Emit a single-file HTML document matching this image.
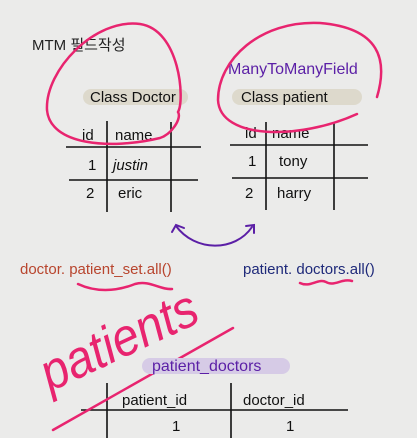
<!DOCTYPE html>
<html><head><meta charset="utf-8"><style>
html,body{margin:0;padding:0;background:#ebebea;}
svg{display:block}
text{font-family:"Liberation Sans","Noto Sans CJK KR",sans-serif;}
</style></head><body>
<svg width="417" height="438" viewBox="0 0 417 438" xmlns="http://www.w3.org/2000/svg">
<rect width="417" height="438" fill="#ebebea"/>
<text x="32" y="50" font-size="15" fill="#222">MTM 필드작성</text>
<text x="228" y="74" font-size="16" fill="#5b1fa6">ManyToManyField</text>
<rect x="83" y="89" width="105" height="16" rx="8" fill="#ddd9cc"/>
<text x="90" y="102" font-size="15" fill="#111">Class Doctor</text>
<rect x="232" y="89" width="130" height="16" rx="8" fill="#ddd9cc"/>
<text x="241" y="102" font-size="15" fill="#111">Class patient</text>
<g stroke="#111" stroke-width="1.6" fill="none">
<line x1="107" y1="121" x2="107" y2="212"/><line x1="171" y1="122" x2="171" y2="212"/>
<line x1="66" y1="147" x2="201" y2="147"/><line x1="69" y1="180" x2="198" y2="180"/>
<line x1="266" y1="122" x2="266" y2="210"/><line x1="334" y1="122" x2="334" y2="210"/>
<line x1="230" y1="145" x2="368" y2="145"/><line x1="232" y1="178" x2="368" y2="178"/>
<line x1="107" y1="383" x2="107" y2="438"/><line x1="231" y1="383" x2="231" y2="438"/>
<line x1="81" y1="410" x2="348" y2="410"/>
</g>
<g font-size="15" fill="#111">
<text x="82" y="140">id</text><text x="115" y="140">name</text>
<text x="88" y="170">1</text><text x="113" y="170" font-style="italic">justin</text>
<text x="86" y="198">2</text><text x="118" y="198">eric</text>
<text x="245" y="138">id</text><text x="272" y="138">name</text>
<text x="248" y="166">1</text><text x="279" y="166">tony</text>
<text x="245" y="198">2</text><text x="277" y="198">harry</text>
<text x="122" y="405">patient_id</text><text x="243" y="405">doctor_id</text>
<text x="172" y="431">1</text><text x="286" y="431">1</text>
</g>
<g stroke="#e8246f" stroke-width="2.5" fill="none" stroke-linecap="round">
<path d="M178,112 C185,100 180,30 140,24 C95,18 45,70 47,110 C50,145 110,150 160,138 C172,134 182,118 178,112"/>
<path d="M377,97 C388,60 380,28 320,23 C260,20 218,60 218,100 C220,140 300,140 357,114"/>
<path d="M78,284 C95,292 115,292 135,284 C150,280 160,290 172,289"/>
<path d="M300,283 C310,288 318,278 326,282 C334,287 342,278 352,281"/>
<path d="M53,430 L233,328"/>
</g>
<g fill="none" stroke="#5b1fa6" stroke-width="2" stroke-linecap="round">
<path d="M176,226 C195,252 235,252 252,227"/>
<path d="M172,232 L176,225 L184,228"/><path d="M246,226 L254,225 L254,233"/>
</g>
<text x="20" y="274" font-size="15" fill="#b8452e">doctor. patient_set.all()</text>
<text x="243" y="274" font-size="15" fill="#1f2a7a">patient. doctors.all()</text>
<text x="0" y="0" font-size="48" fill="#e8246f" font-style="italic" transform="translate(50,392) rotate(-25) scale(1,1.1)">patients</text>
<rect x="142" y="358" width="148" height="16" rx="8" fill="#d6cbe6"/>
<text x="152" y="371" font-size="16" fill="#5b1fa6">patient_doctors</text>
</svg>
</body></html>
